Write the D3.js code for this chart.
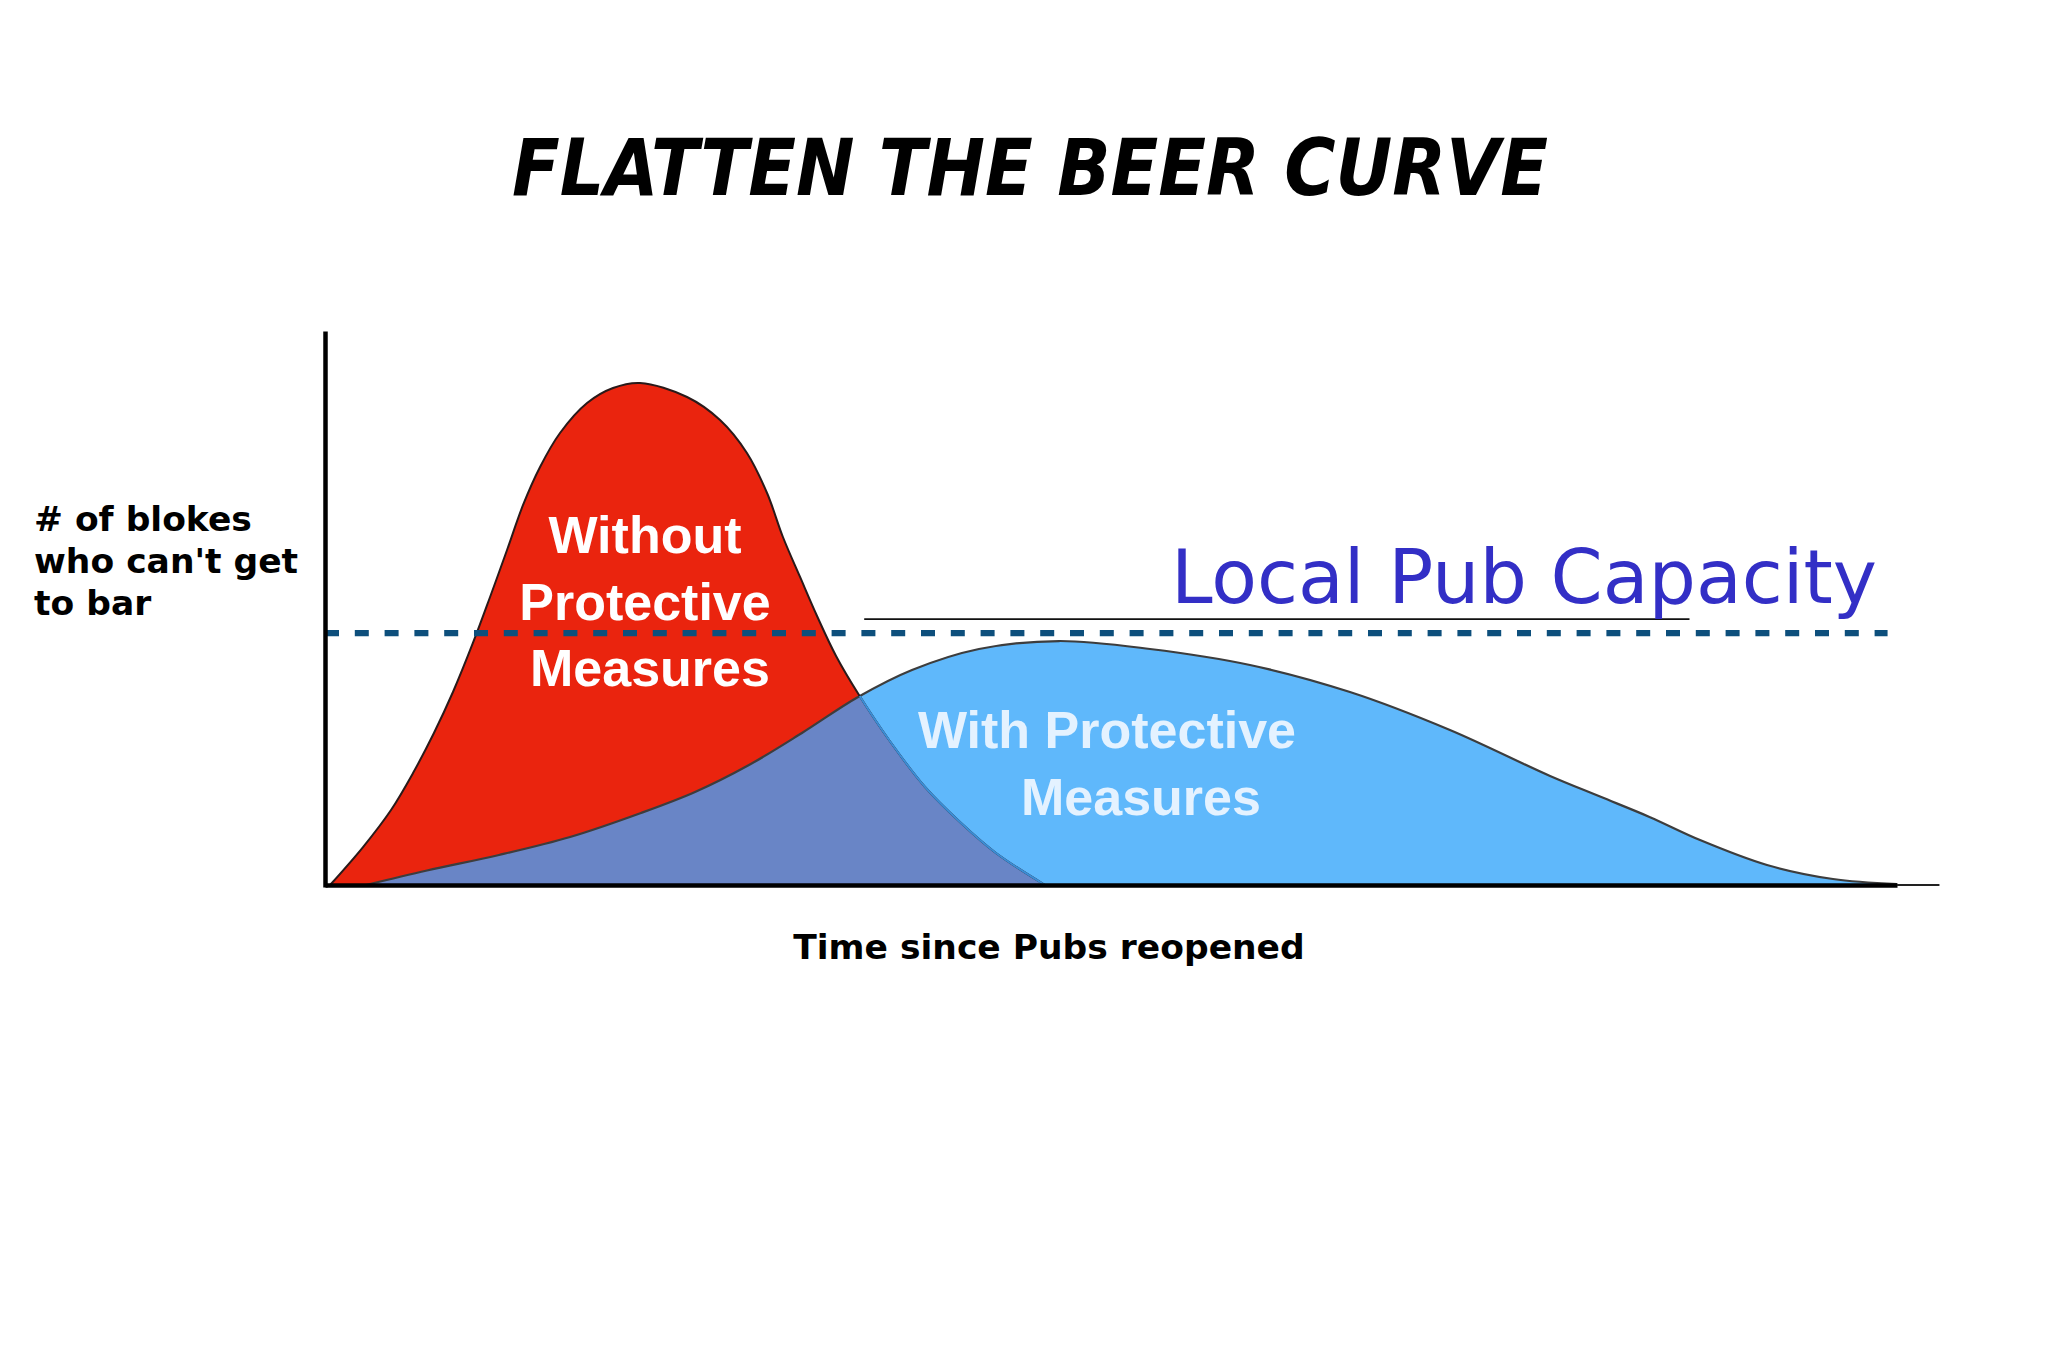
<!DOCTYPE html>
<html>
<head>
<meta charset="utf-8">
<script src="https://cdn.jsdelivr.net/npm/d3@7"></script>
<style>
  html, body { margin: 0; padding: 0; background: #ffffff; }
  svg { display: block; }
</style>
</head>
<body>
<div id="chart"></div>
<script>
// ---- data (x: time since reopening, y: blokes who can't get to bar) ----
const withoutX = [0.32, 2.42, 4.20, 5.60, 6.93, 8.14, 9.41, 10.50, 11.58, 12.60, 13.68, 14.95, 16.67, 18.32, 20.04, 23.03, 25.13, 26.84, 28.12, 29.13, 30.22, 31.30, 32.51, 33.97, 35.88, 38.17, 40.46, 42.68, 45.80];
const withoutY = [0, 6.83, 13.49, 20.14, 27.34, 34.71, 43.53, 51.80, 60.25, 68.35, 75.18, 81.29, 86.69, 89.39, 90.29, 87.77, 83.63, 77.70, 70.50, 62.59, 55.40, 48.38, 41.19, 34.17, 26.08, 17.63, 11.15, 5.76, 0];
const withX = [2.61, 6.49, 11.07, 15.59, 20.10, 23.54, 26.97, 30.34, 33.91, 37.34, 41.60, 46.69, 52.48, 58.84, 65.20, 71.56, 77.93, 81.11, 84.29, 87.47, 91.73, 95.93, 100];
const withY = [0, 2.60, 5.40, 8.63, 12.95, 16.73, 21.58, 27.34, 33.81, 38.67, 42.45, 43.88, 42.45, 39.57, 34.71, 27.88, 19.60, 15.90, 12.20, 8.09, 3.60, 1.08, 0.18];
const capacity = 45.3;
const capacityEnd = 99.4;
const underlineRange = [34.3, 86.8];
const axisExtensionEnd = 102.7;

const titleText = "FLATTEN THE BEER CURVE";
const yLabelLines = ["# of blokes", "who can't get", "to bar"];
const xLabelText = "Time since Pubs reopened";
const withoutLabel = ["Without", "Protective", "Measures"];
const withLabel = ["With Protective", "Measures"];
const capacityLabel = "Local Pub Capacity";

// ---- layout ----
const W = 2048, H = 1365;
const svg = d3.select("#chart").append("svg").attr("width", W).attr("height", H);
svg.append("rect").attr("width", W).attr("height", H).attr("fill", "#ffffff");

const x = d3.scaleLinear().domain([0, 100]).range([325, 1897]);
const y = d3.scaleLinear().domain([0, 100]).range([885, 329]);

const without = withoutX.map((v, i) => [v, withoutY[i]]);
const withPM = withX.map((v, i) => [v, withY[i]]);

const curve = d3.curveCatmullRom.alpha(0.5);
const area = d3.area().x(d => x(d[0])).y0(y(0)).y1(d => y(d[1])).curve(curve);
const line = d3.line().x(d => x(d[0])).y(d => y(d[1])).curve(curve);

const defs = svg.append("defs");
defs.append("clipPath").attr("id", "clipRed").append("path").attr("d", area(without));
defs.append("clipPath").attr("id", "clipBlue").append("path").attr("d", area(withPM));

// fills
svg.append("path").attr("d", area(withPM)).attr("fill", "#5fb8fb");
svg.append("path").attr("d", area(without)).attr("fill", "#ea240e");
svg.append("path").attr("d", area(withPM)).attr("fill", "#6985c6").attr("clip-path", "url(#clipRed)");

// outlines
svg.append("path").attr("d", line(withPM)).attr("fill", "none").attr("stroke", "#3d3d3d").attr("stroke-width", 2.2);
svg.append("path").attr("d", line(without)).attr("fill", "none").attr("stroke", "#2a1a1a").attr("stroke-width", 2);
svg.append("path").attr("d", line(without)).attr("fill", "none").attr("stroke", "#3b8ed6").attr("stroke-width", 2).attr("clip-path", "url(#clipBlue)");

// capacity dashed line
svg.append("line")
  .attr("x1", x(0)).attr("x2", x(capacityEnd))
  .attr("y1", y(capacity)).attr("y2", y(capacity))
  .attr("stroke", "#0d4f7c").attr("stroke-width", 6.3)
  .attr("stroke-dasharray", "14,15.8");

// thin underline beneath capacity label
svg.append("line")
  .attr("x1", x(underlineRange[0])).attr("x2", x(underlineRange[1]))
  .attr("y1", y(capacity) - 14).attr("y2", y(capacity) - 14)
  .attr("stroke", "#111").attr("stroke-width", 1.6);

// axes (no ticks)
const xAxis = d3.axisBottom(x).tickValues([]).tickSizeOuter(0);
const yAxis = d3.axisLeft(y).tickValues([]).tickSizeOuter(0);
svg.append("g").attr("transform", `translate(0,${y(0)})`).call(xAxis)
  .select(".domain").attr("stroke", "#000").attr("stroke-width", 4.5);
svg.append("line").attr("x1", x(100)).attr("x2", x(axisExtensionEnd))
  .attr("y1", y(0)).attr("y2", y(0)).attr("stroke", "#222").attr("stroke-width", 1.8);
svg.append("g").call(yAxis).attr("transform", `translate(${x(0)},2)`)
  .select(".domain").attr("stroke", "#000").attr("stroke-width", 4.5);

// title
svg.append("text").text(titleText)
  .attr("x", 1030).attr("y", 195)
  .attr("text-anchor", "middle")
  .attr("font-family", "'DejaVu Sans Condensed', 'DejaVu Sans', sans-serif")
  .attr("font-weight", "bold").attr("font-style", "italic")
  .attr("font-size", 78)
  .attr("textLength", 1036).attr("lengthAdjust", "spacingAndGlyphs")
  .attr("fill", "#000");

// y label
const yl = svg.append("text")
  .attr("font-family", "'DejaVu Sans', sans-serif").attr("font-weight", "bold")
  .attr("font-size", 34.5).attr("fill", "#000");
yLabelLines.forEach((t, i) => {
  yl.append("tspan").attr("x", 34).attr("y", 531 + i * 42).text(t);
});

// x label
svg.append("text").text(xLabelText)
  .attr("x", 1049).attr("y", 959).attr("text-anchor", "middle")
  .attr("font-family", "'DejaVu Sans', sans-serif").attr("font-weight", "bold")
  .attr("font-size", 34.5).attr("fill", "#000");

// without label
const wl = svg.append("text")
  .attr("font-family", "'Liberation Sans', Arial, sans-serif").attr("font-weight", "bold")
  .attr("font-size", 52).attr("fill", "#ffffff").attr("text-anchor", "middle");
const wlPos = [[645, 553], [645, 620], [650, 686]];
withoutLabel.forEach((t, i) => wl.append("tspan").attr("x", wlPos[i][0]).attr("y", wlPos[i][1]).text(t));

// with label
const pl = svg.append("text")
  .attr("font-family", "'Liberation Sans', Arial, sans-serif").attr("font-weight", "bold")
  .attr("font-size", 52).attr("fill", "#e4f2ff").attr("text-anchor", "middle");
const plPos = [[1107, 748], [1141, 815]];
withLabel.forEach((t, i) => pl.append("tspan").attr("x", plPos[i][0]).attr("y", plPos[i][1]).text(t));

// capacity label
svg.append("text").text(capacityLabel)
  .attr("x", 1171).attr("y", 603)
  .attr("font-family", "'DejaVu Sans', sans-serif")
  .attr("font-size", 74)
  .attr("textLength", 706).attr("lengthAdjust", "spacingAndGlyphs")
  .attr("fill", "#332fc6");
</script>
</body>
</html>
